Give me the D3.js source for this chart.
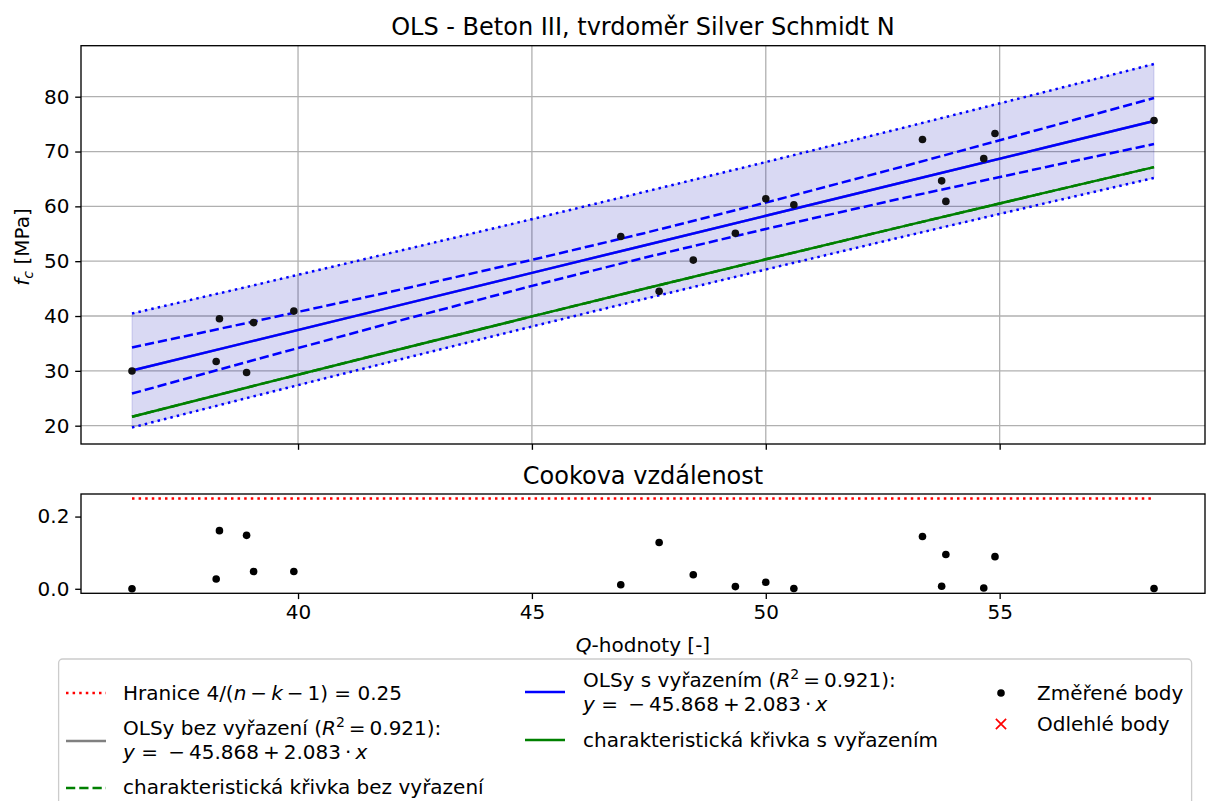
<!DOCTYPE html>
<html>
<head>
<meta charset="utf-8">
<script src="https://cdn.jsdelivr.net/npm/d3@7"></script>
<style>
  body { margin: 0; background: #fff; }
  svg { font-family: "DejaVu Sans", sans-serif; }
</style>
</head>
<body>
<svg id="chart" width="1208" height="801"></svg>
<script>
// ---------------- data ----------------
const pointsX = [36.45, 38.25, 38.32, 38.90, 39.05, 39.91, 46.90, 47.72, 48.45, 49.35, 50.00, 50.60, 53.35, 53.76, 53.85, 54.66, 54.90, 58.30];
const pointsY = [29.98, 31.70, 39.50, 29.70, 38.80, 40.90, 54.50, 44.50, 50.20, 55.10, 61.40, 60.30, 72.20, 64.65, 60.90, 68.70, 73.30, 75.65];
const cookD   = [0.000, 0.027, 0.161, 0.148, 0.048, 0.048, 0.011, 0.128, 0.039, 0.006, 0.018, 0.001, 0.145, 0.007, 0.095, 0.002, 0.089, 0.001];

const bandX     = [36.45, 39.0, 42.0, 45.0, 47.4, 50.0, 53.0, 56.0, 58.3];
const fitLine   = [30.06, 35.37, 41.62, 47.87, 52.87, 58.28, 64.53, 70.78, 75.57];
const ciUpper   = [34.26, 38.90, 44.46, 50.24, 55.11, 60.68, 67.42, 74.37, 79.77];
const ciLower   = [25.86, 31.84, 38.78, 45.50, 50.63, 55.88, 61.64, 67.19, 71.37];
const piUpper   = [40.45, 45.50, 51.54, 57.66, 62.63, 68.08, 74.46, 80.94, 85.96];
const piLower   = [19.67, 25.24, 31.70, 38.08, 43.11, 48.48, 54.60, 60.62, 65.18];
const charCurve = [21.64, 27.16, 33.58, 39.93, 44.96, 50.34, 56.48, 62.55, 67.15];

const cookLimit = 0.25;
const cookLimitX = [36.45, 58.30];

const xTicks = [40, 45, 50, 55];
const yTicksTop = [20, 30, 40, 50, 60, 70, 80];
const yTicksCook = [0.0, 0.2];

// ---------------- layout ----------------
const svg = d3.select("#chart");
const L = 81, R = 1205;
const topT = 45.7, topB = 444;
const cT = 494, cB = 593.3;
const FS = 20;
const FT = 24;

const x = d3.scaleLinear().domain([35.36, 59.39]).range([L, R]);
const y = d3.scaleLinear().domain([16.66, 89.3]).range([topB, topT]);
const yc = d3.scaleLinear().domain([-0.0125, 0.2625]).range([cB, cT]);

const lw = 2.5;
const dotted = "2.5,4.1";
const dashed = "9.25,4";

// ---------------- top axes ----------------
const gTop = svg.append("g");
gTop.append("g").selectAll("line").data(xTicks).join("line")
  .attr("x1", d => x(d)).attr("x2", d => x(d)).attr("y1", topT).attr("y2", topB)
  .attr("stroke", "#b0b0b0").attr("stroke-width", 1.3);
gTop.append("g").selectAll("line").data(yTicksTop).join("line")
  .attr("x1", L).attr("x2", R).attr("y1", d => y(d)).attr("y2", d => y(d))
  .attr("stroke", "#b0b0b0").attr("stroke-width", 1.3);

const bandData = bandX.map((v, i) => ({x: v, fit: fitLine[i], ciU: ciUpper[i], ciL: ciLower[i], piU: piUpper[i], piL: piLower[i], ch: charCurve[i]}));

svg.append("clipPath").attr("id", "clipTop").append("rect")
  .attr("x", L).attr("y", topT).attr("width", R - L).attr("height", topB - topT);
const plot = gTop.append("g").attr("clip-path", "url(#clipTop)");

plot.append("path").datum(bandData)
  .attr("d", d3.area().x(d => x(d.x)).y0(d => y(d.piL)).y1(d => y(d.piU)))
  .attr("fill", "#0000b0").attr("fill-opacity", 0.15)
  .attr("stroke", "#0000b0").attr("stroke-opacity", 0.15).attr("stroke-width", 1);

const lineOf = key => d3.line().x(d => x(d.x)).y(d => y(d[key]));

plot.append("path").datum(bandData).attr("d", lineOf("ch"))
  .attr("fill", "none").attr("stroke", "green").attr("stroke-width", lw).attr("stroke-dasharray", dashed);
plot.append("path").datum(bandData).attr("d", lineOf("fit"))
  .attr("fill", "none").attr("stroke", "gray").attr("stroke-width", lw);
plot.append("path").datum(bandData).attr("d", lineOf("fit"))
  .attr("fill", "none").attr("stroke", "blue").attr("stroke-width", lw);
["ciU", "ciL"].forEach(k => plot.append("path").datum(bandData).attr("d", lineOf(k))
  .attr("fill", "none").attr("stroke", "blue").attr("stroke-width", lw).attr("stroke-dasharray", dashed));
["piU", "piL"].forEach(k => plot.append("path").datum(bandData).attr("d", lineOf(k))
  .attr("fill", "none").attr("stroke", "blue").attr("stroke-width", lw).attr("stroke-dasharray", dotted));
plot.append("path").datum(bandData).attr("d", lineOf("ch"))
  .attr("fill", "none").attr("stroke", "green").attr("stroke-width", lw);

plot.append("g").selectAll("circle").data(pointsX.map((v, i) => [v, pointsY[i]])).join("circle")
  .attr("cx", d => x(d[0])).attr("cy", d => y(d[1])).attr("r", 3.8).attr("fill", "#111");

gTop.append("rect").attr("x", L).attr("y", topT).attr("width", R - L).attr("height", topB - topT)
  .attr("fill", "none").attr("stroke", "#000").attr("stroke-width", 1.33);

function styleAxis(g) {
  g.select(".domain").remove();
  g.selectAll(".tick line").attr("stroke", "#000").attr("stroke-width", 1.33);
  g.selectAll(".tick text").attr("font-size", FS).attr("fill", "#000").attr("font-family", "DejaVu Sans");
}

gTop.append("g").attr("transform", `translate(0,${topB})`)
  .call(d3.axisBottom(x).tickValues(xTicks).tickSize(5.8).tickPadding(5.8).tickFormat(d3.format("d")))
  .call(styleAxis).selectAll(".tick text").remove();
gTop.append("g").attr("transform", `translate(${L},0)`)
  .call(d3.axisLeft(y).tickValues(yTicksTop).tickSize(5.8).tickPadding(5.8).tickFormat(d3.format("d")))
  .call(styleAxis);

svg.append("text").attr("x", (L + R) / 2).attr("y", 35).attr("text-anchor", "middle")
  .attr("font-size", FT).text("OLS - Beton III, tvrdoměr Silver Schmidt N");

const yl = svg.append("text").attr("transform", `translate(29,247) rotate(-90)`)
  .attr("text-anchor", "middle").attr("font-size", FS);
yl.append("tspan").attr("font-style", "italic").text("f");
yl.append("tspan").attr("font-style", "italic").attr("font-size", 14).attr("dy", 4).text("c");
yl.append("tspan").attr("dy", -4).text(" [MPa]");

// ---------------- Cook axes ----------------
const gC = svg.append("g");
gC.append("path").datum(cookLimitX)
  .attr("d", d3.line().x(d => x(d)).y(() => yc(cookLimit)))
  .attr("stroke", "red").attr("stroke-width", lw).attr("stroke-dasharray", dotted).attr("fill", "none");
gC.append("g").selectAll("circle").data(pointsX.map((v, i) => [v, cookD[i]])).join("circle")
  .attr("cx", d => x(d[0])).attr("cy", d => yc(d[1])).attr("r", 3.8).attr("fill", "#000");
gC.append("rect").attr("x", L).attr("y", cT).attr("width", R - L).attr("height", cB - cT)
  .attr("fill", "none").attr("stroke", "#000").attr("stroke-width", 1.33);
gC.append("g").attr("transform", `translate(0,${cB})`)
  .call(d3.axisBottom(x).tickValues(xTicks).tickSize(5.8).tickPadding(5.8).tickFormat(d3.format("d")))
  .call(styleAxis);
gC.append("g").attr("transform", `translate(${L},0)`)
  .call(d3.axisLeft(yc).tickValues(yTicksCook).tickSize(5.8).tickPadding(5.8).tickFormat(d3.format(".1f")))
  .call(styleAxis);

svg.append("text").attr("x", (L + R) / 2).attr("y", cT - 10).attr("text-anchor", "middle")
  .attr("font-size", FT).text("Cookova vzdálenost");

const xl = svg.append("text").attr("x", (L + R) / 2).attr("y", 652).attr("text-anchor", "middle").attr("font-size", FS);
xl.append("tspan").attr("font-style", "italic").text("Q");
xl.append("tspan").text("-hodnoty [-]");

// ---------------- legend ----------------
const lg = svg.append("g");
lg.append("rect").attr("x", 58.6).attr("y", 659).attr("width", 1133).attr("height", 170).attr("rx", 4)
  .attr("fill", "#fff").attr("fill-opacity", 0.8).attr("stroke", "#cccccc").attr("stroke-width", 1.3);

function rich(xp, yp, segs) {
  const t = lg.append("text").attr("x", xp).attr("y", yp).attr("font-size", FS).attr("fill", "#000");
  let shift = 0;
  segs.forEach(s => {
    const sp = t.append("tspan");
    if (s.i) sp.attr("font-style", "italic");
    let dy = 0;
    if (s.sup) { sp.attr("font-size", 14); dy = -8 - shift; shift = -8; }
    else { dy = -shift; shift = 0; }
    if (dy !== 0) sp.attr("dy", dy);
    sp.text(s.t);
  });
  return t;
}
function handleLine(x1, x2, yy, color, dash) {
  const l = lg.append("line").attr("x1", x1).attr("x2", x2).attr("y1", yy).attr("y2", yy)
    .attr("stroke", color).attr("stroke-width", lw);
  if (dash) l.attr("stroke-dasharray", dash);
}
const T = "\u2009";
const eqSegs = [{t: "y", i: 1}, {t: " = " + T + "−" + T + "45.868" + T + "+" + T + "2.083" + T + "·" + T}, {t: "x", i: 1}];

// column 1
handleLine(66, 106, 693, "red", dotted);
rich(123, 700, [{t: "Hranice 4/("}, {t: "n", i: 1}, {t: T + "−" + T}, {t: "k", i: 1}, {t: T + "−" + T + "1) = 0.25"}]);
handleLine(66, 106, 741, "gray");
rich(123, 735, [{t: "OLSy bez vyřazení ("}, {t: "R", i: 1}, {t: "2", sup: 1}, {t: T + "=" + T + "0.921):"}]);
rich(123, 759, eqSegs);
handleLine(66, 106, 788, "green", dashed);
rich(123, 794, [{t: "charakteristická křivka bez vyřazení"}]);

// column 2
handleLine(525, 565, 692, "blue");
rich(583, 687, [{t: "OLSy s vyřazením ("}, {t: "R", i: 1}, {t: "2", sup: 1}, {t: T + "=" + T + "0.921):"}]);
rich(583, 711, eqSegs);
handleLine(525, 565, 740, "green");
rich(583, 747, [{t: "charakteristická křivka s vyřazením"}]);

// column 3
lg.append("circle").attr("cx", 1001).attr("cy", 693).attr("r", 3.8).attr("fill", "#000");
rich(1037, 700, [{t: "Změřené body"}]);
lg.append("path").attr("d", d3.symbol(d3.symbolTimes, 70)()).attr("transform", "translate(1001,724)")
  .attr("fill", "none").attr("stroke", "red").attr("stroke-width", 1.7);
rich(1037, 731, [{t: "Odlehlé body"}]);
</script>
</body>
</html>
